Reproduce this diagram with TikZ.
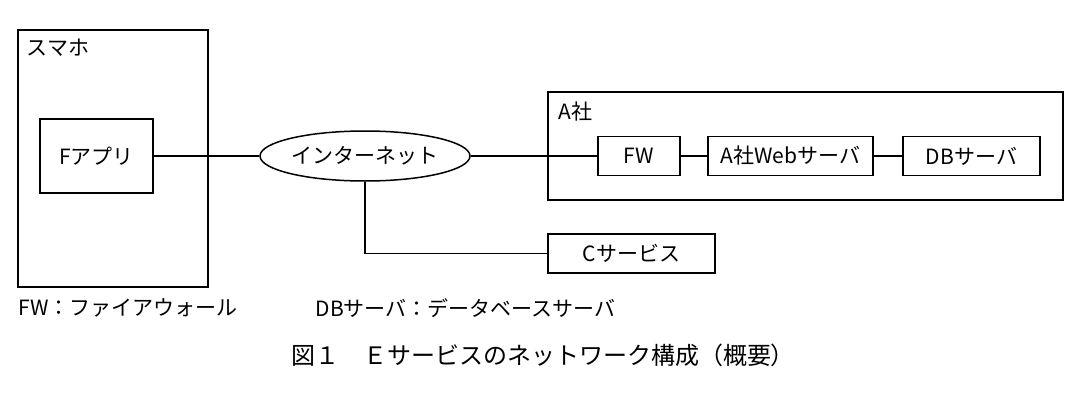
\documentclass[tikz,border=0pt]{standalone}
\usepackage{fontspec}
\setmainfont{Noto Sans CJK JP}
\usetikzlibrary{shapes.geometric}
\begin{document}
\begin{tikzpicture}[x=1pt,y=-1pt,line width=1.5pt,
  box/.style={draw,minimum height=39pt,inner sep=0pt,font=\fontsize{21}{21}\selectfont},
  lbl/.style={anchor=west,inner sep=0pt,font=\fontsize{21}{21}\selectfont}]
\useasboundingbox (0,0) rectangle (1080,407);
\node[draw,minimum width=190pt,minimum height=257pt,inner sep=0pt] (phone) at (113,158.5) {};
\node[lbl] (phl) at (26,48) {スマホ};
\node[box,minimum width=113pt,minimum height=74pt] (app) at (96.5,156) {Fアプリ};
\node[draw,ellipse,minimum width=210pt,minimum height=50pt,inner sep=0pt,font=\fontsize{21}{21}\selectfont] (net) at (365,156) {インターネット};
\node[draw,minimum width=515pt,minimum height=108pt,inner sep=0pt] (a) at (805.5,146) {};
\node[lbl] (al) at (558,112) {A社};
\node[box,minimum width=82pt] (fw) at (639,156) {FW};
\node[box,minimum width=165pt] (web) at (790.5,156) {A社Webサーバ};
\node[box,minimum width=137pt] (db) at (971.5,156) {DBサーバ};
\node[box,minimum width=167pt] (c) at (631.5,253.5) {Cサービス};
\draw (app.east) -- (net.west);
\draw (net.east) -- (fw.west);
\draw (fw.east) -- (web.west);
\draw (web.east) -- (db.west);
\draw (net.south) -- (net.south |- c.west) -- (c.west);
\node[lbl] (l1) at (18,308) {FW：ファイアウォール};
\node[lbl] (l2) at (315,308) {DBサーバ：データベースサーバ};
\node[inner sep=0pt,font=\fontsize{24}{24}\selectfont] (cap) at (543,355) {図１　Ｅサービスのネットワーク構成（概要）};
\end{tikzpicture}
\end{document}
